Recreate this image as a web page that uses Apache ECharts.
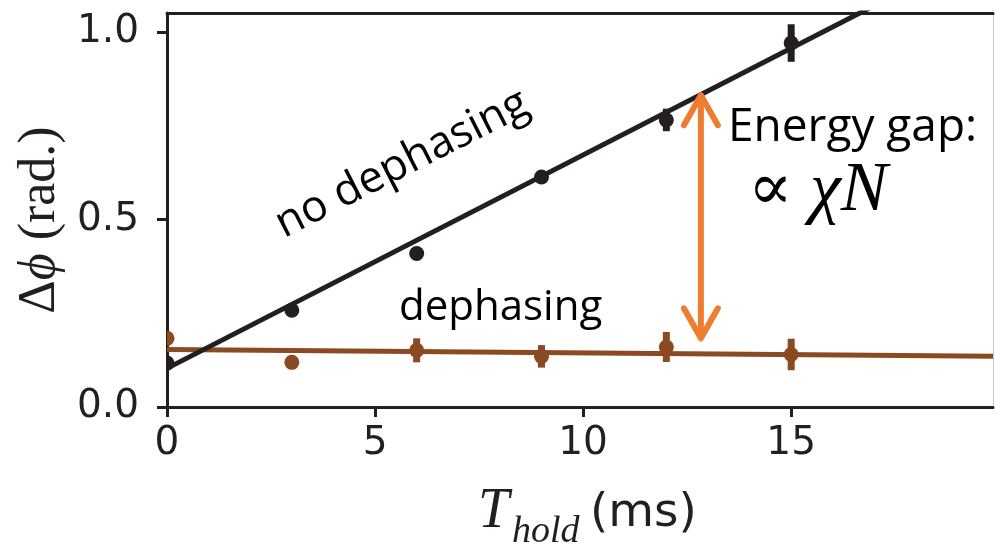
<!DOCTYPE html>
<html>
<head>
<meta charset="utf-8">
<script src="https://cdn.jsdelivr.net/npm/echarts@6/dist/echarts.min.js"></script>
<style>
  html, body { margin: 0; padding: 0; background: #ffffff; }
  #chart { width: 995px; height: 548px; }
</style>
</head>
<body>
<div id="chart"></div>
<script>
// Tick positions
const xTicks = [0, 5, 10, 15];
const yTicks = [0, 0.5, 1.0];

// Measured phase difference vs hold time (ms)
const holdTimes = [0, 3, 6, 9, 12, 15];
const noDephasing = [0.117, 0.258, 0.409, 0.613, 0.765, 0.97];
const noDephasingErr = [0.01, 0.01, 0.01, 0.012, 0.03, 0.05];
const dephasing = [0.183, 0.119, 0.151, 0.135, 0.16, 0.14];
const dephasingErr = [0.008, 0.008, 0.032, 0.03, 0.04, 0.042];

// Linear fits (end points in data units)
const noDephasingFitX = [0, 19.85];
const noDephasingFitY = [0.103, 1.232];
const dephasingFitX = [0, 19.85];
const dephasingFitY = [0.153, 0.135];

// Energy-gap arrow (x, lower end, upper end)
const gapArrowX = 12.83;
const gapArrowLow = 0.183;
const gapArrowHigh = 0.831;

const INK = '#231f20';
const BROWN = '#8b4a21';
const ORANGE = '#ed7d31';

const chart = echarts.init(document.getElementById('chart'), null, { renderer: 'canvas' });

function zip(xs, ys, es) {
  return xs.map((x, i) => es ? [x, ys[i], es[i]] : [x, ys[i]]);
}

function errorPointRenderer(color) {
  return function (params, api) {
    const x = api.value(0), y = api.value(1), e = api.value(2);
    const c = api.coord([x, y]);
    const top = api.coord([x, y + e]);
    const bot = api.coord([x, y - e]);
    return {
      type: 'group',
      children: [
        { type: 'line', shape: { x1: c[0], y1: top[1], x2: c[0], y2: bot[1] },
          style: { stroke: color, lineWidth: 7 } },
        { type: 'circle', shape: { cx: c[0], cy: c[1], r: 7.5 },
          style: { fill: color } }
      ]
    };
  };
}

function arrowRenderer(params, api) {
  const x = api.value(0);
  const lo = api.coord([x, api.value(1)]);
  const hi = api.coord([x, api.value(2)]);
  const hw = 17, hl = 30;
  const st = { stroke: ORANGE, lineWidth: 6, lineCap: 'round', lineJoin: 'round', fill: null };
  return {
    type: 'group',
    children: [
      { type: 'line', shape: { x1: hi[0], y1: hi[1] + 2, x2: lo[0], y2: lo[1] - 2 }, style: st },
      { type: 'polyline', shape: { points: [[hi[0] - hw, hi[1] + hl], [hi[0], hi[1]], [hi[0] + hw, hi[1] + hl]] }, style: st },
      { type: 'polyline', shape: { points: [[lo[0] - hw, lo[1] - hl], [lo[0], lo[1]], [lo[0] + hw, lo[1] - hl]] }, style: st }
    ]
  };
}

const tickFont = { fontFamily: 'DejaVu Sans', fontSize: 39, color: INK };
const annoFont = '"Open Sans", Lato, sans-serif';
const serif = '"Liberation Serif", "DejaVu Serif", serif';

chart.setOption({
  animation: false,
  grid: { left: 167, top: 13, right: 2, bottom: 141, containLabel: false },
  xAxis: [
    {
      type: 'value', min: 0, max: 19.85, position: 'bottom',
      axisLine: { show: true, onZero: false, lineStyle: { color: INK, width: 3 } },
      axisTick: { show: true, customValues: xTicks, length: 10, lineStyle: { color: INK, width: 3 } },
      axisLabel: Object.assign({ customValues: xTicks, margin: 17 }, tickFont),
      splitLine: { show: false }
    },
    {
      type: 'value', min: 0, max: 19.85, position: 'top',
      axisLine: { show: true, onZero: false, lineStyle: { color: INK, width: 3 } },
      axisTick: { show: false }, axisLabel: { show: false }, splitLine: { show: false }
    }
  ],
  yAxis: [
    {
      type: 'value', min: 0, max: 1.05, position: 'left',
      axisLine: { show: true, onZero: false, lineStyle: { color: INK, width: 3 } },
      axisTick: { show: true, customValues: yTicks, length: 10, lineStyle: { color: INK, width: 3 } },
      axisLabel: Object.assign({ customValues: yTicks, margin: 28, formatter: v => v.toFixed(1) }, tickFont),
      splitLine: { show: false }
    },
    {
      type: 'value', min: 0, max: 1.05, position: 'right',
      axisLine: { show: true, onZero: false, lineStyle: { color: '#c8c8c8', width: 1 } },
      axisTick: { show: false }, axisLabel: { show: false }, splitLine: { show: false }
    }
  ],
  series: [
    {
      name: 'dephasing fit', type: 'line', clip: true, symbol: 'none', z: 2,
      data: zip(dephasingFitX, dephasingFitY),
      lineStyle: { color: BROWN, width: 5 }
    },
    {
      name: 'dephasing', type: 'custom', clip: true, z: 3,
      renderItem: errorPointRenderer(BROWN),
      data: zip(holdTimes, dephasing, dephasingErr)
    },
    {
      name: 'no dephasing fit', type: 'line', clip: true, symbol: 'none', z: 4,
      data: zip(noDephasingFitX, noDephasingFitY),
      lineStyle: { color: INK, width: 5 }
    },
    {
      name: 'no dephasing', type: 'custom', clip: true, z: 5,
      renderItem: errorPointRenderer(INK),
      data: zip(holdTimes, noDephasing, noDephasingErr)
    },
    {
      name: 'energy gap', type: 'custom', clip: false, z: 6,
      renderItem: arrowRenderer,
      data: [[gapArrowX, gapArrowLow, gapArrowHigh]]
    }
  ],
  graphic: [
    {
      type: 'text', x: 402, y: 164, rotation: 27 * Math.PI / 180,
      style: { text: 'no dephasing', font: '44px ' + annoFont, fill: '#000', align: 'center', verticalAlign: 'middle' }
    },
    {
      type: 'text', x: 399, y: 308,
      style: { text: 'dephasing', font: '42px ' + annoFont, fill: '#000', align: 'left', verticalAlign: 'middle' }
    },
    {
      type: 'text', x: 728, y: 128,
      style: { text: 'Energy gap:', font: '46px ' + annoFont, fill: '#000', align: 'left', verticalAlign: 'middle' }
    },
    {
      type: 'text', x: 748, y: 192,
      style: { text: '\u221D', font: '66px "DejaVu Serif", serif', fill: '#000', align: 'left', verticalAlign: 'middle' }
    },
    {
      type: 'text', x: 810, y: 192,
      style: { text: '\u03C7N', font: 'italic 70px ' + serif, fill: '#000', align: 'left', verticalAlign: 'middle' }
    },
    {
      type: 'text', x: 40, y: 220, rotation: Math.PI / 2,
      style: {
        text: '{d|\u0394}{p|\u03D5}{r| (rad.)}',
        align: 'center', verticalAlign: 'middle',
        rich: {
          d: { font: '52px ' + serif, fill: INK },
          p: { font: 'italic 52px ' + serif, fill: INK },
          r: { font: '52px ' + serif, fill: INK }
        }
      }
    },
    {
      type: 'text', x: 478, y: 512,
      style: { text: 'T', font: 'italic 56px ' + serif, fill: INK, align: 'left', verticalAlign: 'middle' }
    },
    {
      type: 'text', x: 512, y: 532,
      style: { text: 'hold', font: 'italic 38px ' + serif, fill: INK, align: 'left', verticalAlign: 'middle' }
    },
    {
      type: 'text', x: 590, y: 514,
      style: { text: '(ms)', font: '47px "DejaVu Sans", sans-serif', fill: INK, align: 'left', verticalAlign: 'middle' }
    }
  ]
});
</script>
</body>
</html>
